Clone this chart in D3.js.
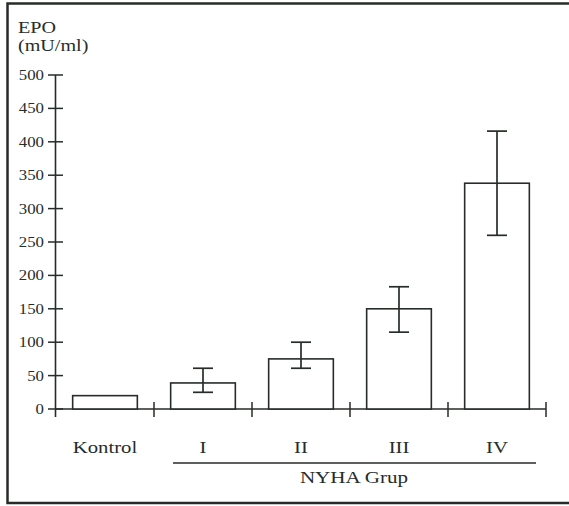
<!DOCTYPE html>
<html>
<head>
<meta charset="utf-8">
<script src="https://cdnjs.cloudflare.com/ajax/libs/d3/7.8.5/d3.min.js"></script>
<style>
  body { margin: 0; background: #fff; }
  text { font-family: "Liberation Serif", "DejaVu Serif", serif; fill: #262d29; }
</style>
</head>
<body>
<div id="chart"></div>
<script>
// data
var categories = ['Kontrol', 'I', 'II', 'III', 'IV'];
var epoMean = [20, 39, 75, 150, 338];
var errLow = [null, 25, 61, 115, 260];
var errHigh = [null, 61, 100, 183, 416];
var yTicks = [0, 50, 100, 150, 200, 250, 300, 350, 400, 450, 500];

var svgWidth = 569,
    svgHeight = 506;
var ink = '#262d29';

var svg = d3.select('#chart').append('svg')
    .attr('width', svgWidth)
    .attr('height', svgHeight);

// scan frame (open on the right)
svg.append('path')
    .attr('d', 'M575,3.5 H7.5 V503 H575')
    .attr('fill', 'none')
    .attr('stroke', ink)
    .attr('stroke-width', 2.5);

var xScale = d3.scaleBand()
    .domain(categories)
    .range([56, 546])
    .padding(0);

var yScale = d3.scaleLinear()
    .domain([0, 500])
    .range([409, 75]);

// text helper, the scanned type is a bit wider than it is tall
var addText = (x, y, str, size, sx, anchor) => {
    svg.append('g')
        .attr('transform', `translate(${x},${y}) scale(${sx},1)`)
        .append('text')
        .attr('text-anchor', anchor)
        .attr('font-size', size)
        .text(str);
};

// y axis
svg.append('line')
    .attr('x1', 55.5).attr('x2', 55.5)
    .attr('y1', yScale(500)).attr('y2', 417)
    .attr('stroke', ink).attr('stroke-width', 1.6);

svg.append('g').selectAll('line')
    .data(yTicks)
    .enter()
    .append('line')
    .attr('x1', 48).attr('x2', 63)
    .attr('y1', d => yScale(d)).attr('y2', d => yScale(d))
    .attr('stroke', ink).attr('stroke-width', 1.5);

yTicks.forEach(t => addText(44, yScale(t) + 5, t, 15, 1.12, 'end'));

addText(18, 33, 'EPO', 17.5, 1.15, 'start');
addText(18, 51, '(mU/ml)', 17.5, 1.15, 'start');

// x axis
svg.append('line')
    .attr('x1', 55.5).attr('x2', 546)
    .attr('y1', yScale(0)).attr('y2', yScale(0))
    .attr('stroke', ink).attr('stroke-width', 1.6);

var boundaries = categories.slice(1).map(c => xScale(c)).concat([xScale.range()[1]]);
svg.append('g').selectAll('line')
    .data(boundaries)
    .enter()
    .append('line')
    .attr('x1', d => d).attr('x2', d => d)
    .attr('y1', 402).attr('y2', 417)
    .attr('stroke', ink).attr('stroke-width', 1.5);

// bars
var barW = xScale.bandwidth() * 0.66;
svg.append('g').selectAll('rect')
    .data(epoMean)
    .enter()
    .append('rect')
    .attr('x', (d, i) => xScale(categories[i]) + (xScale.bandwidth() - barW) / 2)
    .attr('y', d => yScale(d))
    .attr('width', barW)
    .attr('height', d => yScale(0) - yScale(d))
    .attr('fill', '#fff')
    .attr('stroke', ink)
    .attr('stroke-width', 1.6);

// error bars
var capW = 20;
categories.forEach((c, i) => {
    if (errLow[i] == null) return;
    var cx = xScale(c) + xScale.bandwidth() / 2;
    var g = svg.append('g')
        .attr('stroke', ink)
        .attr('stroke-width', 1.7);
    g.append('line')
        .attr('x1', cx).attr('x2', cx)
        .attr('y1', yScale(errLow[i])).attr('y2', yScale(errHigh[i]));
    [errLow[i], errHigh[i]].forEach(v => {
        g.append('line')
            .attr('x1', cx - capW / 2).attr('x2', cx + capW / 2)
            .attr('y1', yScale(v)).attr('y2', yScale(v));
    });
});

// category labels
categories.forEach(c => {
    addText(xScale(c) + xScale.bandwidth() / 2, 453, c, 17, 1.22, 'middle');
});

// group line and caption
svg.append('line')
    .attr('x1', 173).attr('x2', 536)
    .attr('y1', 463).attr('y2', 463)
    .attr('stroke', ink).attr('stroke-width', 1.5);
addText(354, 483, 'NYHA Grup', 17, 1.24, 'middle');
</script>
</body>
</html>
